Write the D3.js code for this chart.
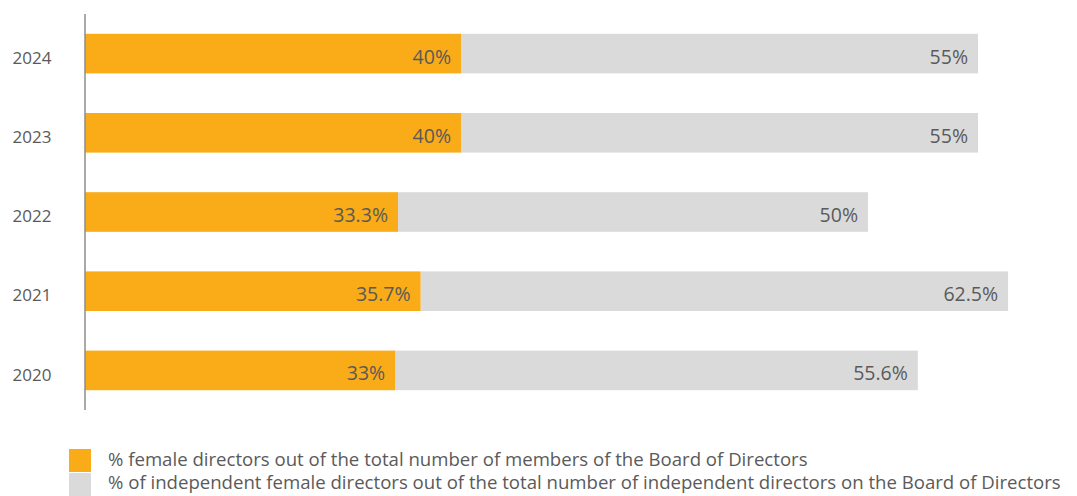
<!DOCTYPE html>
<html>
<head>
<meta charset="utf-8">
<script src="https://cdn.jsdelivr.net/npm/d3@7"></script>
<style>
  html, body { margin: 0; padding: 0; background: #fff; }
  svg { display: block; font-family: "Open Sans", "Noto Sans", sans-serif; }
</style>
</head>
<body>
<svg id="chart" width="1077" height="496"></svg>
<script>
// Board composition by year
const years = ["2024", "2023", "2022", "2021", "2020"];
const femaleShare = [40, 40, 33.3, 35.7, 33];
const independentFemaleShare = [55, 55, 50, 62.5, 55.6];
const femaleLabels = ["40%", "40%", "33.3%", "35.7%", "33%"];
const independentLabels = ["55%", "55%", "50%", "62.5%", "55.6%"];
const legendLabels = [
  "% female directors out of the total number of members of the Board of Directors",
  "% of independent female directors out of the total number of independent directors on the Board of Directors"
];

const colors = ["#f9ab18", "#dadada"];
const textColor = "#5a5a5a";

const svg = d3.select("#chart");

const x = d3.scaleLinear().domain([0, 100]).range([85, 1025]);
const y = d3.scaleBand().domain(years).range([14, 410]).paddingInner(0.5).paddingOuter(0.25);

const rows = years.map((yr, i) => ({
  year: yr,
  a: femaleShare[i],
  b: independentFemaleShare[i],
  la: femaleLabels[i],
  lb: independentLabels[i]
}));

const g = svg.append("g");

// stacked segments: female share first, independent share after it
g.selectAll("rect.seg-b").data(rows).join("rect")
  .attr("class", "seg-b")
  .attr("x", d => x(d.a))
  .attr("y", d => y(d.year))
  .attr("width", d => x(d.a + d.b) - x(d.a))
  .attr("height", y.bandwidth())
  .attr("fill", colors[1]);

g.selectAll("rect.seg-a").data(rows).join("rect")
  .attr("class", "seg-a")
  .attr("x", x(0))
  .attr("y", d => y(d.year))
  .attr("width", d => x(d.a) - x(0))
  .attr("height", y.bandwidth())
  .attr("fill", colors[0]);

// value labels at the end of each segment
g.selectAll("text.lab-a").data(rows).join("text")
  .attr("class", "lab-a")
  .attr("x", d => x(d.a) - 10)
  .attr("y", d => y(d.year) + y.bandwidth() / 2 + 10)
  .attr("text-anchor", "end")
  .attr("font-size", 19.5)
  .attr("fill", textColor)
  .text(d => d.la);

g.selectAll("text.lab-b").data(rows).join("text")
  .attr("class", "lab-b")
  .attr("x", d => x(d.a + d.b) - 10)
  .attr("y", d => y(d.year) + y.bandwidth() / 2 + 10)
  .attr("text-anchor", "end")
  .attr("font-size", 19.5)
  .attr("fill", textColor)
  .text(d => d.lb);

// category axis
const yAxis = d3.axisLeft(y).tickSize(0).tickPadding(0);
const ax = svg.append("g").attr("transform", `translate(${x(0)},0)`).call(yAxis);
ax.select(".domain").remove();
ax.selectAll("text")
  .attr("x", -53)
  .attr("dy", "0.6em")
  .attr("text-anchor", "middle")
  .attr("font-size", 17)
  .attr("font-family", "\"Open Sans\", \"Noto Sans\", sans-serif")
  .attr("fill", textColor);

svg.append("line")
  .attr("x1", x(0)).attr("x2", x(0))
  .attr("y1", 14).attr("y2", 410)
  .attr("stroke", "#8c8c8c")
  .attr("stroke-width", 1.5);

// legend
const legend = svg.append("g").attr("transform", "translate(69,449)");
const items = legend.selectAll("g").data(legendLabels).join("g")
  .attr("transform", (d, i) => `translate(0,${i * 24})`);
items.append("rect")
  .attr("width", 22).attr("height", 23)
  .attr("fill", (d, i) => colors[i]);
items.append("text")
  .attr("x", 39).attr("y", (d, i) => i === 0 ? 17 : 16)
  .attr("font-size", 18.6)
  .attr("fill", textColor)
  .text(d => d);
</script>
</body>
</html>
